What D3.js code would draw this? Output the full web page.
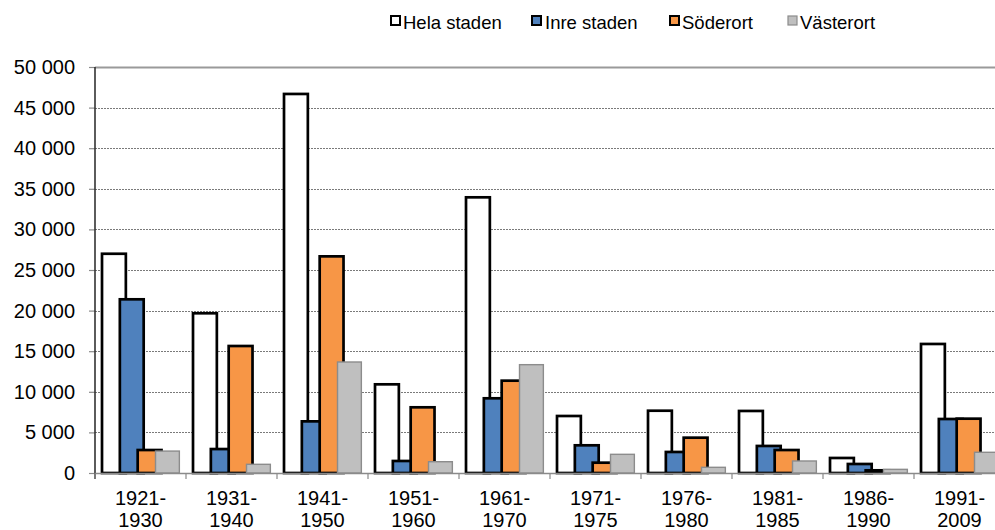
<!DOCTYPE html>
<html>
<head>
<meta charset="utf-8">
<script src="https://cdn.jsdelivr.net/npm/d3@7/dist/d3.min.js"></script>
<style>
  html, body { margin: 0; padding: 0; background: #fff; }
  svg { display: block; font-family: "Liberation Sans", Arial, sans-serif; }
</style>
</head>
<body>
<svg id="chart" width="995" height="530"></svg>
<script>
// Periods (two-line labels) and completed dwellings per area
const periods = [
  ["1921-", "1930"], ["1931-", "1940"], ["1941-", "1950"], ["1951-", "1960"],
  ["1961-", "1970"], ["1971-", "1975"], ["1976-", "1980"], ["1981-", "1985"],
  ["1986-", "1990"], ["1991-", "2009"]
];
const seriesNames = ["Hela staden", "Inre staden", "Söderort", "Västerort"];
const helaStaden = [27000, 19670, 46680, 10920, 33950, 7020, 7670, 7640, 1850, 15890];
const inreStaden = [21390, 2950, 6360, 1480, 9200, 3410, 2590, 3330, 1110, 6650];
const soderort   = [2830, 15640, 26680, 8090, 11370, 1270, 4350, 2830, 330, 6690];
const vasterort  = [2700, 1070, 13670, 1390, 13340, 2300, 700, 1480, 450, 2550];
const yTicks = [0, 5000, 10000, 15000, 20000, 25000, 30000, 35000, 40000, 45000, 50000];

const seriesValues = [helaStaden, inreStaden, soderort, vasterort];
const fills   = ["#ffffff", "#4f81bd", "#f79646", "#bfbfbf"];
const strokes = ["#000000", "#000000", "#000000", "#8c8c8c"];
const strokeW = [2.7, 2.7, 2.7, 1.4];

const svg = d3.select("#chart");
const plot = { left: 95, right: 1005, top: 67, bottom: 473 };

const x = d3.scaleBand()
  .domain(periods.map((d, i) => i))
  .range([plot.left, plot.right])
  .padding(0);
const y = d3.scaleLinear().domain([0, 50000]).range([plot.bottom, plot.top]);

const fmt = v => d3.format(",")(v).replace(/,/g, " ");

// Horizontal gridlines (dotted), top one solid
svg.append("g").selectAll("line")
  .data(yTicks.filter(t => t > 0))
  .join("line")
  .attr("x1", plot.left).attr("x2", 995)
  .attr("y1", d => Math.round(y(d)) + 0.5).attr("y2", d => Math.round(y(d)) + 0.5)
  .attr("stroke", d => d === 50000 ? "#9a9a9a" : "#7a7a7a")
  .attr("stroke-width", d => d === 50000 ? 2 : 1)
  .attr("stroke-dasharray", d => d === 50000 ? null : "2,1");

// Y axis
const yAxis = d3.axisLeft(y).tickValues(yTicks).tickFormat(fmt).tickSize(6).tickPadding(14);
const gy = svg.append("g").attr("transform", `translate(${plot.left},0)`).call(yAxis);
gy.select(".domain").remove();
gy.selectAll(".tick line").attr("stroke", "#8a8a8a").attr("stroke-width", 1.2);
gy.selectAll(".tick text")
  .attr("font-size", 20).attr("fill", "#000")
  .attr("font-family", "'Liberation Sans', Arial, sans-serif");

// Bars: four overlapping bars per period
const bw = x.bandwidth();
const barW = bw * 0.262;
const barStart = bw * 0.077;
const barStep = bw * 0.196;

seriesValues.forEach((vals, s) => {
  svg.append("g").selectAll("rect")
    .data(vals)
    .join("rect")
    .attr("x", (d, i) => x(i) + barStart + s * barStep)
    .attr("y", d => y(d))
    .attr("width", barW)
    .attr("height", d => y(0) - y(d))
    .attr("fill", fills[s])
    .attr("stroke", strokes[s])
    .attr("stroke-width", strokeW[s]);
});

// Vertical axis line
svg.append("line")
  .attr("x1", plot.left).attr("x2", plot.left)
  .attr("y1", plot.top).attr("y2", plot.bottom + 6)
  .attr("stroke", "#333").attr("stroke-width", 1.6);

// X axis
const xAxis = d3.axisBottom(x).tickSize(0).tickFormat("");
const gx = svg.append("g").attr("transform", `translate(0,${plot.bottom})`).call(xAxis);
gx.select(".domain").attr("stroke", "#8a8a8a").attr("stroke-width", 1.5);
gx.selectAll(".tick").remove();

// Category separator ticks
svg.append("g").selectAll("line")
  .data(d3.range(periods.length + 1))
  .join("line")
  .attr("x1", i => plot.left + i * bw).attr("x2", i => plot.left + i * bw)
  .attr("y1", plot.bottom).attr("y2", plot.bottom + 6)
  .attr("stroke", "#8a8a8a").attr("stroke-width", 1.2);

// Two-line period labels
const labels = svg.append("g").selectAll("text")
  .data(periods)
  .join("text")
  .attr("x", (d, i) => x(i) + bw / 2)
  .attr("y", 505)
  .attr("text-anchor", "middle")
  .attr("font-size", 20)
  .attr("fill", "#000");
labels.append("tspan").attr("x", (d, i) => x(i) + bw / 2).text(d => d[0]);
labels.append("tspan").attr("x", (d, i) => x(i) + bw / 2).attr("dy", 22).text(d => d[1]);

// Legend
const legendX = [391, 532, 670, 788];
const legendTextX = [403, 545, 682, 800];
const legend = svg.append("g");
seriesNames.forEach((name, s) => {
  legend.append("rect")
    .attr("x", legendX[s]).attr("y", 16)
    .attr("width", 9).attr("height", 9)
    .attr("fill", fills[s])
    .attr("stroke", strokes[s])
    .attr("stroke-width", s === 3 ? 1.2 : 2);
  legend.append("text")
    .attr("x", legendTextX[s]).attr("y", 29)
    .attr("font-size", 18.5)
    .attr("fill", "#000")
    .text(name);
});
</script>
</body>
</html>
